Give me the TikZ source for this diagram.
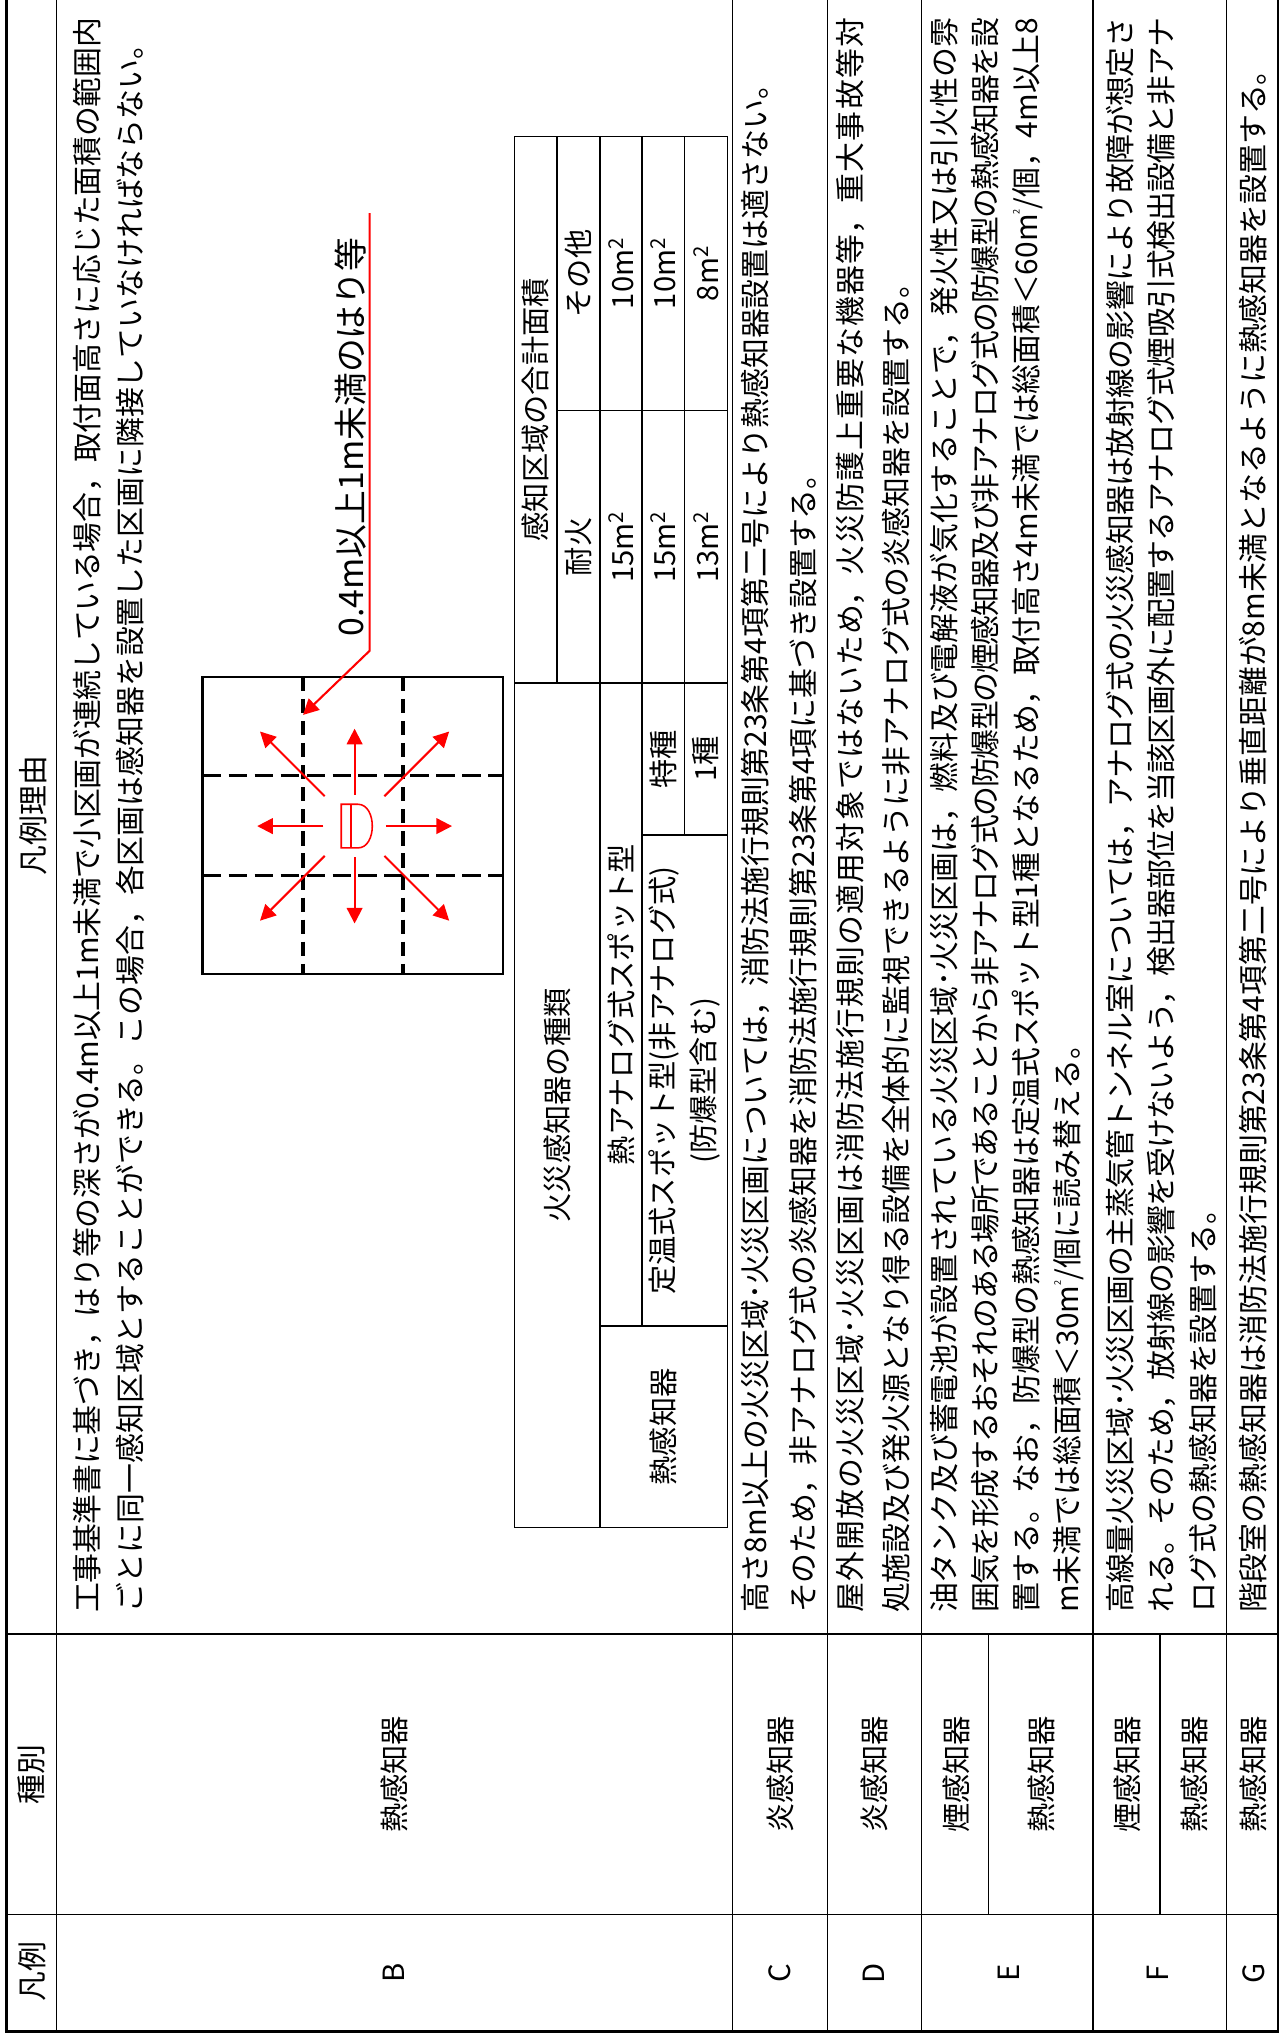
\documentclass[tikz,border=0pt]{standalone}
\usepackage{fontspec}
\setmainfont{Noto Sans CJK JP}
\usetikzlibrary{arrows.meta}
\XeTeXlinebreaklocale "ja"
\XeTeXlinebreakskip=0pt plus 3pt minus 1.5pt
\newcommand{\msq}{m\textsuperscript{2}}
\newcommand{\msqs}{m\raisebox{0.6em}{\fontsize{7}{7}\selectfont 2}}
\tikzset{
    txt/.style={rotate=90, inner sep=0pt, font=\fontsize{22.5}{32}\selectfont},
    hdr/.style={rotate=90, inner sep=0pt, font=\fontsize{23}{28}\selectfont},
    reason/.style={rotate=90, inner sep=0pt, anchor=north west, text width=1228pt, align=justify},
    rule/.style={line width=1pt},
    tableframe/.style={line width=1.8pt},
    innerrule/.style={line width=1.3pt},
    ray/.style={red, line width=1.6pt, -{Triangle[length=12pt,width=12pt]}},
    detector/.style={red, line width=1.2pt},
}
\begin{document}
\begin{tikzpicture}[x=1pt, y=-1pt]
                \useasboundingbox (0,0) rectangle (987,1567.5);
                \draw[tableframe] (5,0) -- (5,1564) -- (984,1564) -- (984,0);
                \draw[rule] (5,1474) -- (984,1474);
                \draw[rule] (5,1258) -- (984,1258);
                \foreach \x in {43.5,564,637,709.5,841.5,944}
                    \draw[rule] (\x,0) -- (\x,1564);
                \draw[rule] (761,1258) -- (761,1474);
                \draw[rule] (893,1258) -- (893,1474);
                \node[hdr] (hlegend) at (24.5,1518) {凡例};
                \node[hdr] (hkind) at (24.5,1366) {種別};
                \node[hdr] (hreason) at (25.5,628) {凡例理由};
                \node[txt] (legB) at (303.5,1519) {B};
                \node[txt] (legC) at (600.5,1519) {C};
                \node[txt] (legD) at (673,1519) {D};
                \node[txt] (legE) at (777,1519) {E};
                \node[txt] (legF) at (891,1519) {F};
                \node[txt] (legG) at (965,1519) {G};
                \node[txt] (kindB) at (303.5,1366) {熱感知器};
                \node[txt] (kindC) at (600.5,1366) {炎感知器};
                \node[txt] (kindD) at (673,1366) {炎感知器};
                \node[txt] (kindEa) at (736,1366) {煙感知器};
                \node[txt] (kindEb) at (802,1366) {熱感知器};
                \node[txt] (kindFa) at (868,1366) {煙感知器};
                \node[txt] (kindFb) at (919.5,1366) {熱感知器};
                \node[txt] (kindG) at (965,1366) {熱感知器};
                \node[reason, font=\fontsize{23}{33.3}\selectfont] (reasonB) at (56,1242) {工事基準書に基づき，はり等の深さが0.4m以上1m未満で小区画が連続している場合，取付面高さに応じた面積の範囲内\linebreak ごとに同一感知区域とすることができる。この場合，各区画は感知器を設置した区画に隣接していなければならない。};
                \node[reason, font=\fontsize{23}{36.6}\selectfont] (reasonC) at (570.5,1242) {高さ8m以上の火災区域･火災区画については，消防法施行規則第23条第4項第二号により熱感知器設置は適さない。\par そのため，非アナログ式の炎感知器を消防法施行規則第23条第4項に基づき設置する。};
                \node[reason, font=\fontsize{23}{35}\selectfont] (reasonD) at (644,1242) {屋外開放の火災区域･火災区画は消防法施行規則の適用対象ではないため，火災防護上重要な機器等，重大事故等対\linebreak 処施設及び発火源となり得る設備を全体的に監視できるように非アナログ式の炎感知器を設置する。};
                \node[reason, font=\fontsize{23}{31.6}\selectfont] (reasonE) at (716,1242) {油タンク及び蓄電池が設置されている火災区域･火災区画は，燃料及び電解液が気化することで，発火性又は引火性の雰\linebreak 囲気を形成するおそれのある場所であることから非アナログ式の防爆型の煙感知器及び非アナログ式の防爆型の熱感知器を設\linebreak 置する。なお，防爆型の熱感知器は定温式スポット型1種となるため，取付高さ4m未満では総面積＜60\msqs/個，4m以上8\linebreak m未満では総面積＜30\msqs/個に読み替える。};
                \node[reason, font=\fontsize{23}{31.8}\selectfont] (reasonF) at (851.5,1242) {高線量火災区域･火災区画の主蒸気管トンネル室については，アナログ式の火災感知器は放射線の影響により故障が想定さ\linebreak れる。そのため，放射線の影響を受けないよう，検出器部位を当該区画外に配置するアナログ式煙吸引式検出設備と非アナ\linebreak ログ式の熱感知器を設置する。};
                \node[reason, font=\fontsize{23}{32}\selectfont] (reasonG) at (954,1242) {階段室の熱感知器は消防法施行規則第23条第4項第二号により垂直距離が8m未満となるように熱感知器を設置する。};
                \draw[innerrule] (396,105) rectangle (560,1176);
                \draw[innerrule] (429,105) -- (429,526);
                \draw[innerrule] (462,105) -- (462,1176);
                \draw[innerrule] (494,105) -- (494,1021);
                \draw[innerrule] (527,105) -- (527,643);
                \draw[innerrule] (429,316) -- (560,316);
                \draw[innerrule] (396,526) -- (560,526);
                \draw[innerrule] (494,643) -- (560,643);
                \draw[innerrule] (462,1021) -- (560,1021);
                \node[txt] (kinds) at (429,851) {火災感知器の種類};
                \node[txt] (area) at (412.5,315.5) {感知区域の合計面積};
                \node[txt] (fireproof) at (445.5,421) {耐火};
                \node[txt] (other) at (445.5,210.5) {その他};
                \node[txt] (heat) at (511,1098.5) {熱感知器};
                \node[txt] (analog) at (478,773.5) {熱アナログ式スポット型};
                \node[txt, align=center] (fixedtemp) at (527,832) {定温式スポット型(非アナログ式)\\(防爆型含む)};
                \node[txt] (special) at (510.5,584.5) {特種};
                \node[txt] (first) at (543.5,584.5) {1種};
                \node[txt] (analogfp) at (478,421) {15\msq};
                \node[txt] (analogot) at (478,210.5) {10\msq};
                \node[txt] (specialfp) at (510.5,421) {15\msq};
                \node[txt] (specialot) at (510.5,210.5) {10\msq};
                \node[txt] (firstfp) at (543.5,421) {13\msq};
                \node[txt] (firstot) at (543.5,210.5) {8\msq};
                \draw[line width=1.8pt] (156,521) rectangle (387,750);
                \draw[line width=3pt, dash pattern=on 11pt off 6pt] (233,521) -- (233,750);
                \draw[line width=3pt, dash pattern=on 11pt off 6pt] (310,521) -- (310,750);
                \draw[line width=2pt, dash pattern=on 14pt off 6pt] (156,597) -- (387,597);
                \draw[line width=2pt, dash pattern=on 14pt off 6pt] (156,674) -- (387,674);
                \coordinate (det) at (273,636);
                \begin{scope}[shift={(det)}]
                    \draw[detector] (2.6,-16.8) -- (-10.3,-16.8) -- (-10.3,16.8) -- (2.6,16.8) .. controls (17.3,16.8) and (17.3,-16.8) .. cycle;
                    \draw[detector] (-2.6,-16.8) -- (-2.6,16.8);
                    \foreach \a in {0,90,180,270}
                        \draw[ray] (\a:24) -- (\a:75);
                    \foreach \a in {45,135,225,315}
                        \draw[ray] (\a:32.5) -- (\a:103);
                \end{scope}
                \node[txt, font=\fontsize{26}{30}\selectfont] (beamlabel) at (270,336.5) {0.4m以上1m未満のはり等};
                \coordinate (beamtop) at (284.6,164);
                \coordinate (beambend) at (284.6,501);
                \coordinate (beamtip) at (233.3,550.4);
                \draw[ray] (beamtop) -- (beambend) -- (beamtip);
            \end{tikzpicture}
\end{document}
